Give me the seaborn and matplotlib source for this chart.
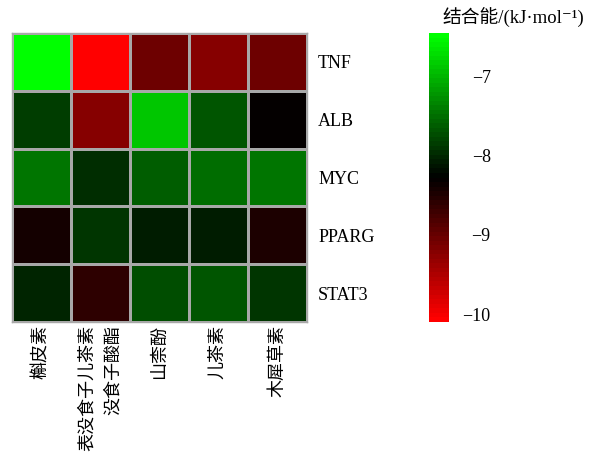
import numpy as np
import pandas as pd
import matplotlib
matplotlib.use("Agg")
import matplotlib.pyplot as plt
from matplotlib.colors import LinearSegmentedColormap
import seaborn as sns

# Docking binding energies (kJ/mol) of each compound against each target
targets = ["TNF", "ALB", "MYC", "PPARG", "STAT3"]
compounds = ["槲皮素", "表没食子儿茶素\n没食子酸酯", "山柰酚", "儿茶素", "木犀草素"]

tnf = [-6.5, -10.1, -9.05, -9.2, -9.05]
alb = [-7.85, -9.2, -6.9, -7.65, -8.3]
myc = [-7.45, -7.95, -7.6, -7.52, -7.42]
pparg = [-8.42, -7.9, -8.09, -8.1, -8.45]
stat3 = [-8.02, -8.58, -7.73, -7.66, -7.9]

cbar_ticks = [-7, -8, -9, -10]
cbar_title = "结合能/(kJ·mol⁻¹)"

df = pd.DataFrame([tnf, alb, myc, pparg, stat3], index=targets, columns=compounds)

sns.set_style("white")
fonts = ["Liberation Serif", "DejaVu Serif", "Noto Sans CJK SC"]
plt.rcParams["font.family"] = fonts
plt.rcParams["axes.unicode_minus"] = True
plt.rcParams["text.color"] = "black"
plt.rcParams["xtick.color"] = "black"
plt.rcParams["ytick.color"] = "black"

cmap = LinearSegmentedColormap.from_list("rkg", ["#ff0000", "#000000", "#00ff00"], N=64)

fig = plt.figure(figsize=(5.93, 4.65), dpi=100)
ax = fig.add_axes([12 / 593, 1 - 322 / 465, 295 / 593, 289 / 465])
cax = fig.add_axes([429 / 593, 1 - 322 / 465, 20 / 593, 289 / 465])

sns.heatmap(df, ax=ax, cmap=cmap, vmin=-10.1, vmax=-6.45,
            linewidths=1.0, linecolor="#a8a8a8",
            cbar_ax=cax, cbar_kws={"ticks": cbar_ticks})

for sp in ax.spines.values():
    sp.set_visible(True)
    sp.set_color("#a8a8a8")
    sp.set_linewidth(1.0)

ax.yaxis.tick_right()
ax.set_yticklabels(targets, rotation=0, fontsize=13, family=fonts, color="black")
ax.tick_params(axis="y", length=0, pad=8)
ax.set_xticklabels(compounds, rotation=90, fontsize=13, family=fonts,
                   ha="center", va="top", multialignment="right",
                   linespacing=1.7, color="black")
ax.tick_params(axis="x", length=0, pad=2)
ax.set_xlabel("")
ax.set_ylabel("")

cbar = ax.collections[0].colorbar
cbar.outline.set_visible(False)
cbar.set_ticks(cbar_ticks)
cbar.set_ticklabels(["−7", "−8", "−9", "−10"])
cax.tick_params(length=0, pad=30, labelsize=13, labelcolor="black")
for t in cax.get_yticklabels():
    t.set_horizontalalignment("right")
    t.set_family(fonts)

fig.text(442 / 593, 1 - 18 / 465, cbar_title, ha="left", va="center",
         fontsize=13.5, family=fonts, color="black")

fig.savefig("out.png", dpi=100)
